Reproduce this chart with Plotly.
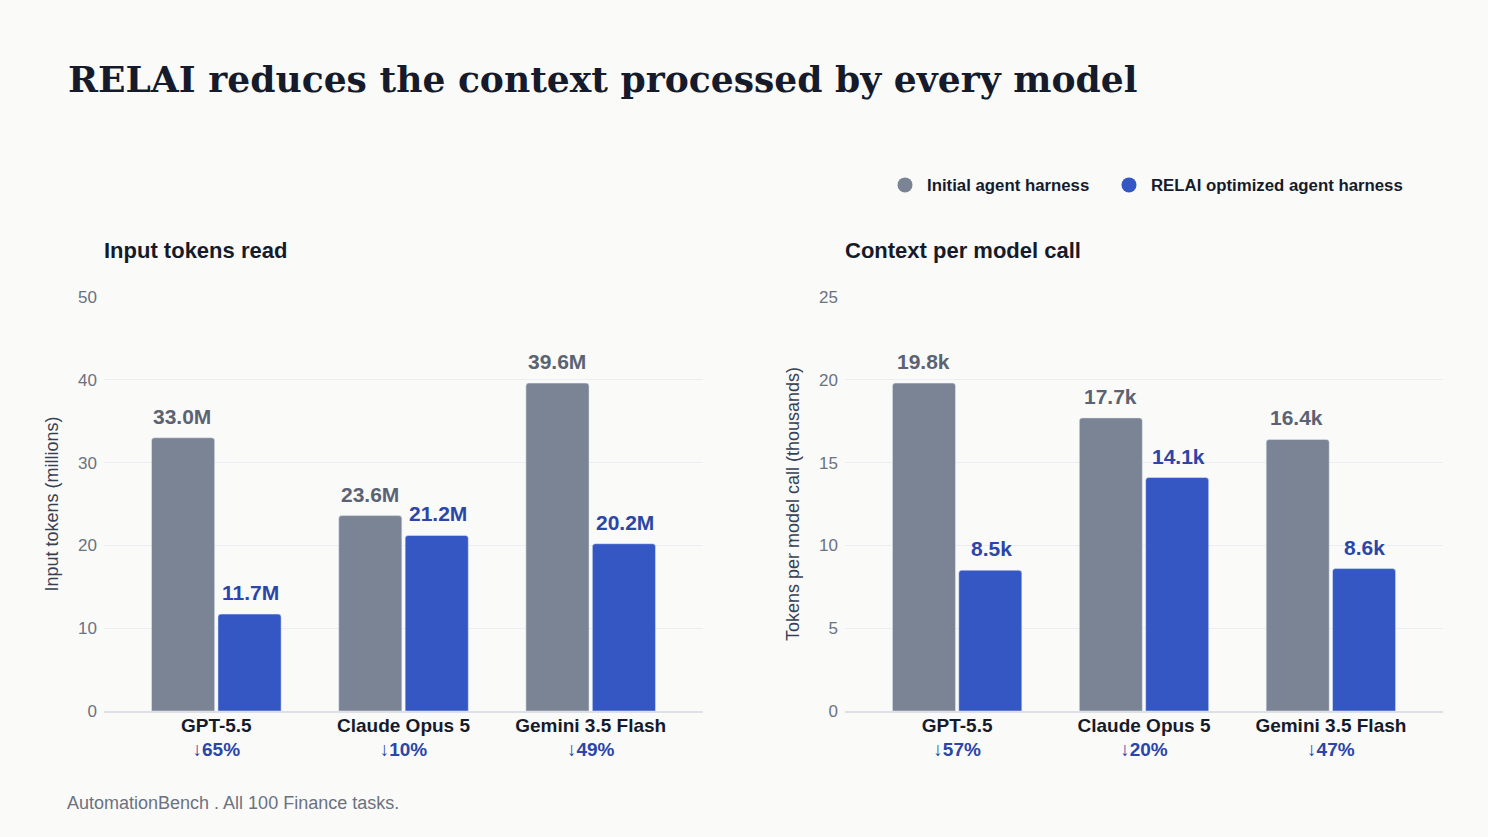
import plotly.graph_objects as go
from plotly.subplots import make_subplots

models = ['GPT-5.5', 'Claude Opus 5', 'Gemini 3.5 Flash']

# input tokens read (millions)
tokens_initial = [33.0, 23.6, 39.6]
tokens_relai = [11.7, 21.2, 20.2]
tokens_drop = [65, 10, 49]

# context per model call (thousands)
ctx_initial = [19.8, 17.7, 16.4]
ctx_relai = [8.5, 14.1, 8.6]
ctx_drop = [57, 20, 47]

GREY = '#7b8494'
BLUE = '#3457c3'
GREY_TXT = '#5b6373'
BLUE_TXT = '#2b45a8'
DARK = '#161b2b'
BG = '#fafaf9'
FONT = 'Liberation Sans, Arial, sans-serif'

W, H = 1488, 837

fig = make_subplots(rows=1, cols=2)


def ticks(drops):
    return [f"<b>{m}</b><br><span style='color:{BLUE_TXT}'>↓<b>{d}%</b></span>"
            for m, d in zip(models, drops)]


labels = []
panels = [
    (1, tokens_initial, tokens_relai, 'M', tokens_drop),
    (2, ctx_initial, ctx_relai, 'k', ctx_drop),
]
for col, ini, rel, unit, drops in panels:
    fig.add_trace(go.Bar(x=models, y=ini, name='Initial agent harness',
                         marker_color=GREY, showlegend=False), row=1, col=col)
    fig.add_trace(go.Bar(x=models, y=rel, name='RELAI optimized agent harness',
                         marker_color=BLUE, showlegend=False), row=1, col=col)
    fig.update_xaxes(tickmode='array', tickvals=models, ticktext=ticks(drops),
                     range=[-0.6, 2.6], showline=True, linecolor='#dde0e6', linewidth=1.5,
                     ticks='', tickfont=dict(size=19, color=DARK, family=FONT),
                     ticklabelstandoff=-4, showgrid=False, automargin=False, row=1, col=col)
    # value labels above each bar
    xr = 'x' if col == 1 else 'x2'
    yr = 'y' if col == 1 else 'y2'
    for vals, shift, color in [(ini, -34, GREY_TXT), (rel, 34, BLUE_TXT)]:
        for m, v in zip(models, vals):
            labels.append(dict(x=m, y=v, xref=xr, yref=yr, xshift=shift, yshift=8,
                               text=f'<b>{v:.1f}{unit}</b>', showarrow=False,
                               yanchor='bottom', font=dict(size=21, color=color, family=FONT)))

# legend entries as circles, one legend each so the gap can be set
fig.add_trace(go.Scatter(x=[None], y=[None], mode='markers', name='Initial agent harness',
                         marker=dict(color=GREY, size=15, symbol='circle'), legend='legend'), row=1, col=1)
fig.add_trace(go.Scatter(x=[None], y=[None], mode='markers', name='RELAI optimized agent harness',
                         marker=dict(color=BLUE, size=15, symbol='circle'), legend='legend2'), row=1, col=1)

ydom = [126 / H, 540 / H]
fig.update_xaxes(domain=[104 / W, 703 / W], row=1, col=1)
fig.update_xaxes(domain=[845 / W, 1443 / W], row=1, col=2)
fig.update_yaxes(domain=ydom, showgrid=True, gridcolor='#eceef2', zeroline=False,
                 tickfont=dict(size=17, color='#6b7280', family=FONT), ticks='',
                 ticklabelstandoff=6, automargin=False)
fig.update_yaxes(range=[0, 50], dtick=10, row=1, col=1,
                 title=dict(text='Input tokens (millions)', standoff=14,
                            font=dict(size=18, color='#374151', family=FONT)))
fig.update_yaxes(range=[0, 25], dtick=5, row=1, col=2,
                 title=dict(text='Tokens per model call (thousands)', standoff=14,
                            font=dict(size=18, color='#374151', family=FONT)))

leg = dict(orientation='h', xanchor='left', y=1 - 185 / H, yanchor='middle',
           font=dict(size=16.8, color=DARK, family=FONT, weight='bold'),
           itemwidth=34, bgcolor='rgba(0,0,0,0)')
fig.update_layout(
    width=W, height=H,
    margin=dict(l=0, r=0, t=0, b=0, autoexpand=False),
    paper_bgcolor=BG, plot_bgcolor=BG,
    barmode='group', bargap=0.29, bargroupgap=0.05, barcornerradius=3,
    font=dict(family=FONT, color=DARK),
    legend=dict(leg, x=883 / W),
    legend2=dict(leg, x=1107 / W),
    annotations=labels + [
        dict(text='<b>RELAI reduces the context processed by every model</b>',
             x=66 / W, y=1 - 80 / H, xref='paper', yref='paper', xanchor='left', yanchor='middle',
             showarrow=False, font=dict(size=36.1, color=DARK, family='Georgia, DejaVu Serif, serif')),
        dict(text='<b>Input tokens read</b>', x=102 / W, y=1 - 250 / H, xref='paper', yref='paper',
             xanchor='left', yanchor='middle', showarrow=False, font=dict(size=22, color=DARK, family=FONT)),
        dict(text='<b>Context per model call</b>', x=843 / W, y=1 - 250 / H, xref='paper', yref='paper',
             xanchor='left', yanchor='middle', showarrow=False, font=dict(size=22, color=DARK, family=FONT)),
        dict(text='AutomationBench . All 100 Finance tasks.', x=65 / W, y=1 - 803 / H,
             xref='paper', yref='paper', xanchor='left', yanchor='middle', showarrow=False,
             font=dict(size=18, color='#6b7280', family=FONT)),
    ],
)

fig.write_html('out.html', config={'displayModeBar': False},
               post_script="document.body.style.margin='0';")
